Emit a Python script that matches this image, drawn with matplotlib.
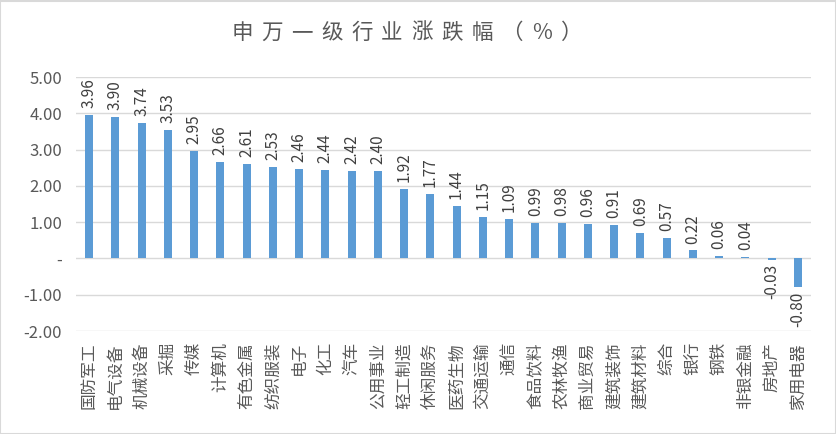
import numpy as np
import matplotlib
matplotlib.use("Agg")
import matplotlib.pyplot as plt
from matplotlib.patches import Rectangle

plt.rcParams['font.family'] = ['Noto Sans CJK SC', 'DejaVu Sans']

industries = ['国防军工', '电气设备', '机械设备', '采掘', '传媒', '计算机', '有色金属',
              '纺织服装', '电子', '化工', '汽车', '公用事业', '轻工制造', '休闲服务',
              '医药生物', '交通运输', '通信', '食品饮料', '农林牧渔', '商业贸易',
              '建筑装饰', '建筑材料', '综合', '银行', '钢铁', '非银金融', '房地产', '家用电器']
changes = [3.96, 3.90, 3.74, 3.53, 2.95, 2.66, 2.61, 2.53, 2.46, 2.44, 2.42, 2.40,
           1.92, 1.77, 1.44, 1.15, 1.09, 0.99, 0.98, 0.96, 0.91, 0.69, 0.57, 0.22,
           0.06, 0.04, -0.03, -0.80]
yticks = [-2, -1, 0, 1, 2, 3, 4, 5]
title = '申万一级行业涨跌幅（%）'

W, H = 837, 434
fig = plt.figure(figsize=(W / 100, H / 100), dpi=100)
ax = fig.add_axes([76 / W, 1 - 331 / H, (811 - 76) / W, (331 - 77) / H])

grey = '#595959'
x = np.arange(len(industries))
ax.bar(x, changes, width=0.3, color='#5B9BD5', zorder=3)

ax.set_xlim(-0.5, len(industries) - 0.5)
ax.set_ylim(-2, 5)
ax.set_yticks(yticks)
ax.set_yticklabels(['-' if v == 0 else '%.2f' % v for v in yticks],
                   fontsize=12, color=grey)
ax.tick_params(axis='y', length=0, pad=10)
ax.set_xticks(x)
ax.set_xticklabels(industries, rotation=90, fontsize=12, color=grey, va='top')
ax.tick_params(axis='x', length=0, pad=8)
ax.grid(axis='y', color='#D9D9D9', linewidth=1, zorder=0)
for s in ax.spines.values():
    s.set_visible(False)

# data labels
for xi, v in zip(x, changes):
    if v >= 0:
        ax.annotate('%.2f' % v, (xi, v), xytext=(0, 5), textcoords='offset points',
                    rotation=90, ha='center', va='bottom', fontsize=11, color='#404040')
    else:
        ax.annotate('%.2f' % v, (xi, v), xytext=(0, -3), textcoords='offset points',
                    rotation=90, ha='center', va='top', fontsize=11, color='#404040')

# title with wide letter spacing
pitch = 30
x0 = 232 + 10
for i, ch in enumerate(title):
    fig.text((x0 + i * pitch) / W, 1 - 33 / H, ch, ha='center', va='center',
             fontsize=15.5, color=grey, fontweight='light')

fig.patches.append(Rectangle((0.5 / W, 0.5 / H), 1 - 1 / W, 1 - 1 / H,
                             transform=fig.transFigure, fill=False,
                             edgecolor='#D9D9D9', linewidth=1.5))

fig.savefig('out.png', dpi=100)
